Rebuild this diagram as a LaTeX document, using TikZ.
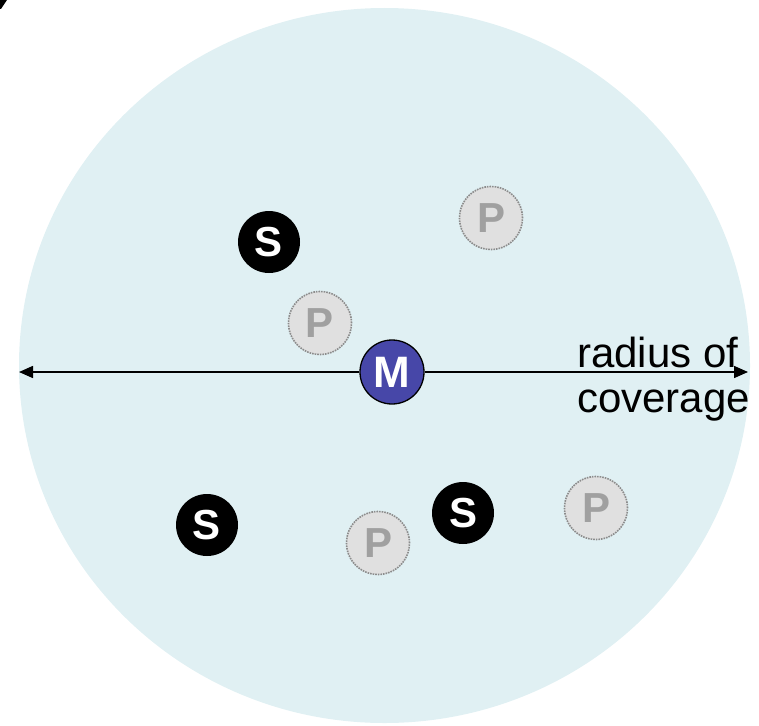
\documentclass[tikz,border=0pt]{standalone}
\usepackage{fontspec}
\setmainfont{Liberation Sans}
\usetikzlibrary{arrows.meta}

\definecolor{cover}{RGB}{224,240,243}
\definecolor{master}{RGB}{71,71,168}
\definecolor{passive}{RGB}{224,224,224}
\definecolor{passline}{RGB}{140,140,140}
\definecolor{passtext}{RGB}{160,160,160}

\tikzset{
    mnode/.style = {circle, draw, line width = 1.3pt, fill = master, text = white,
        minimum size = 64pt, inner sep = 0pt, font = \fontsize{44}{44}\selectfont\bfseries},
    snode/.style = {circle, fill = black, text = white,
        minimum size = 62pt, inner sep = 0pt, font = \fontsize{42}{42}\selectfont\bfseries},
    pnode/.style = {circle, draw = passline, densely dotted, line width = 1.6pt, fill = passive,
        text = passtext, minimum size = 63pt, inner sep = 0pt, font = \fontsize{42}{42}\selectfont\bfseries},
    radius/.style = {line width = 1.5pt, -{Triangle[length = 14pt, width = 12pt]}}
}

\begin{document}
\begin{tikzpicture}[x = 1pt, y = -1pt]
            \useasboundingbox (0,0) rectangle (759,725);
            %Coverage area
            \fill [cover] (384.5,365.5) ellipse [x radius = 365.5, y radius = 357.5];
            \fill (0,0) -- (7,0) -- (1,9) -- (0,9) -- cycle;
            %Master
            \node [mnode] (M)at(392,372){M};
            %Slaves
            \node [snode] (s1)at(269,242){S};
            \node [snode] (s2)at(207,525){S};
            \node [snode] (s3)at(463,513){S};
            %Parked
            \node [pnode] (p1)at(491,218){P};
            \node [pnode] (p2)at(320,323){P};
            \node [pnode] (p3)at(378,543){P};
            \node [pnode] (p4)at(596,508){P};
            %Radius
            \coordinate (left)at(19,372);
            \coordinate (right)at(748,372);
            \draw [radius](M)--(left);
            \draw [radius](M)--(right);
            \node [anchor = base west, align = left, inner sep = 0pt,
                font = \fontsize{42}{45}\selectfont]
            (label)at(577,412){radius of\\coverage};

        \end{tikzpicture}
\end{document}
